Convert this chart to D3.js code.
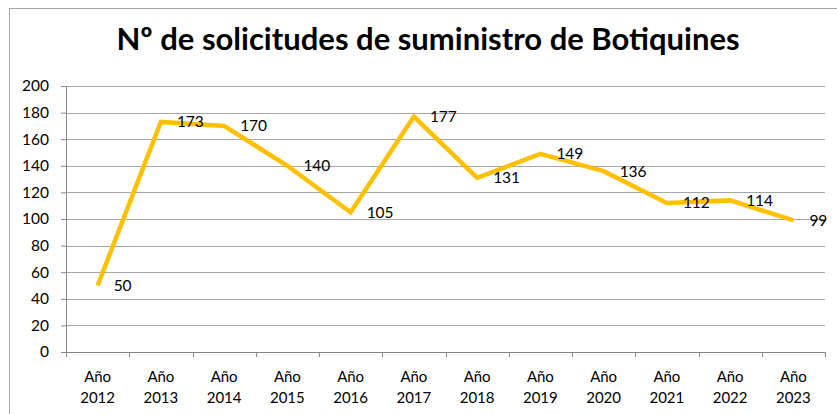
<!DOCTYPE html>
<html lang="es">
<head>
<meta charset="utf-8">
<title>Botiquines</title>
<script src="https://cdn.jsdelivr.net/npm/d3@7"></script>
<style>
    body { margin: 0; background: #fff; }
    text { font-family: Lato, "Open Sans", sans-serif; fill: #000; }
    .grid line { stroke: #a6a6a6; stroke-width: 1; }
    .line { fill: none; stroke: #ffc000; stroke-width: 4.5px; stroke-linejoin: miter; }
</style>
</head>
<body>
<svg width="837" height="414"></svg>
<script>
    // datos
    var years = ["2012", "2013", "2014", "2015", "2016", "2017", "2018", "2019", "2020", "2021", "2022", "2023"];
    var values = [50, 173, 170, 140, 105, 177, 131, 149, 136, 112, 114, 99];
    var yTicks = [0, 20, 40, 60, 80, 100, 120, 140, 160, 180, 200];

    var svg = d3.select("svg"),
        margin = {top: 86, right: 12, bottom: 62, left: 66},
        width = 837 - margin.left - margin.right,
        height = 414 - margin.top - margin.bottom;

    // marco exterior
    svg.append("rect")
        .attr("x", 9.5).attr("y", 8.5)
        .attr("width", 840).attr("height", 420)
        .attr("fill", "none").attr("stroke", "#a6a6a6");

    svg.append("text")
        .attr("x", 428).attr("y", 50)
        .attr("text-anchor", "middle")
        .style("font-size", "31px").style("font-weight", "bold")
        .text("Nº de solicitudes de suministro de Botiquines");

    var g = svg.append("g").attr("transform", "translate(" + margin.left + "," + margin.top + ")");

    var x = d3.scaleBand().domain(years).range([0, width]);
    var y = d3.scaleLinear().domain([0, 200]).range([height, 0]);

    g.append("g").attr("class", "grid")
        .selectAll("line").data(yTicks.slice(1)).enter().append("line")
        .attr("x1", 0).attr("x2", width)
        .attr("y1", function(d) { return Math.round(y(d)) + 0.5; })
        .attr("y2", function(d) { return Math.round(y(d)) + 0.5; });

    var yAxis = g.append("g")
        .call(d3.axisLeft(y).tickValues(yTicks).tickSize(5).tickPadding(12));
    yAxis.selectAll("line, path").attr("stroke", "#868686");
    yAxis.selectAll("text").style("font-size", "15.5px");

    var xAxis = g.append("g")
        .attr("transform", "translate(0," + height + ")")
        .call(d3.axisBottom(x).tickSize(0).tickFormat(""));
    xAxis.select("path").attr("stroke", "#868686");

    // marcas entre categorías
    g.append("g").selectAll("line")
        .data(d3.range(years.length + 1)).enter().append("line")
        .attr("x1", function(i) { return Math.round(x.step() * i) + 0.5; })
        .attr("x2", function(i) { return Math.round(x.step() * i) + 0.5; })
        .attr("y1", height).attr("y2", height + 5)
        .attr("stroke", "#868686");

    var lab = g.append("g").selectAll("text")
        .data(years).enter().append("text")
        .attr("text-anchor", "middle")
        .style("font-size", "15px")
        .attr("transform", function(d) { return "translate(" + (x(d) + x.bandwidth() / 2) + "," + (height + 30) + ")"; });
    lab.append("tspan").attr("x", 0).attr("y", 0).text("Año");
    lab.append("tspan").attr("x", 0).attr("y", 21).text(function(d) { return d; });

    var line = d3.line()
        .x(function(d, i) { return x(years[i]) + x.bandwidth() / 2; })
        .y(function(d) { return y(d); });

    g.append("path").datum(values)
        .attr("class", "line")
        .attr("d", line);

    g.append("g").selectAll("text")
        .data(values).enter().append("text")
        .attr("x", function(d, i) { return x(years[i]) + x.bandwidth() / 2 + 16; })
        .attr("y", function(d) { return y(d); })
        .attr("dy", "0.35em")
        .style("font-size", "15.5px")
        .text(function(d) { return d; });
</script>
</body>
</html>
